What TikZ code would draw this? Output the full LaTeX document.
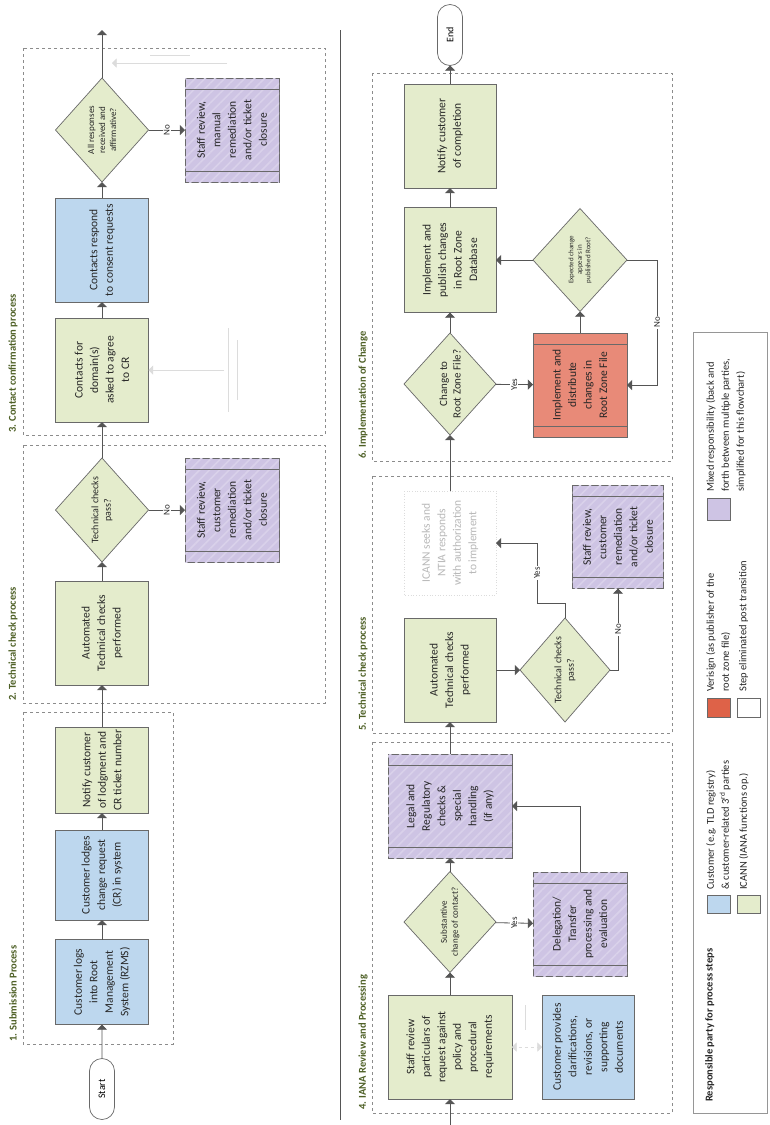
\documentclass[tikz,border=0pt]{standalone}
\usepackage{fontspec}
\setmainfont{Carlito}
\usetikzlibrary{arrows, calc, patterns.meta, shapes.geometric, shapes.misc, positioning}

\definecolor{custblue}{RGB}{189,215,238}
\definecolor{icanngreen}{RGB}{228,236,204}
\definecolor{mixpurple}{RGB}{206,196,228}
\definecolor{verired}{RGB}{232,138,120}
\definecolor{veriswatch}{RGB}{222,98,72}
\definecolor{boxline}{RGB}{105,105,105}
\definecolor{flowline}{RGB}{85,85,85}
\definecolor{frameline}{RGB}{140,140,140}
\definecolor{secttext}{RGB}{78,96,38}
\definecolor{ghost}{RGB}{220,220,220}

\begin{document}
\begin{tikzpicture}[x=1pt, y=-1pt,
  proc/.style={draw=boxline, line width=0.7pt, rotate=90, inner sep=2pt, outer sep=0pt,
    minimum width=104pt, minimum height=93pt, align=center, text=black!85,
    font=\fontsize{11.5}{15.5}\selectfont},
  cust/.style={proc, fill=custblue},
  icann/.style={proc, fill=icanngreen},
  mixed/.style={proc, fill=mixpurple, postaction={pattern={Lines[angle=45,distance=7pt,line width=1.6pt]},
    pattern color=white!22!mixpurple}},
  veri/.style={proc, fill=verired},
  gone/.style={proc, draw=ghost, dotted, text=black!28},
  decide/.style={diamond, draw=boxline, line width=0.7pt, fill=icanngreen, rotate=90,
    inner sep=0pt, outer sep=0pt, minimum width=104pt, minimum height=93pt},
  decidetext/.style={rotate=90, align=center, text=black!85, font=\fontsize{10}{12.5}\selectfont},
  term/.style={rounded rectangle, draw=boxline, line width=0.7pt, fill=white, rotate=90,
    minimum width=61pt, minimum height=25pt, inner sep=0pt, outer sep=0pt, font=\fontsize{10}{12}\selectfont},
  flow/.style={draw=flowline, line width=0.8pt, -triangle 90},
  ghostline/.style={draw=ghost, line width=0.6pt},
  answer/.style={rotate=90, fill=white, inner sep=1pt, text=black!85, font=\fontsize{9}{10}\selectfont},
  stage/.style={draw=frameline, dashed, line width=0.6pt},
  stagetitle/.style={rotate=90, anchor=west, inner sep=0pt, text=secttext, font=\bfseries\fontsize{10.5}{12}\selectfont},
  legtext/.style={rotate=90, anchor=north west, inner sep=0pt, align=left, text=black!85, font=\fontsize{10.5}{15}\selectfont},
  swatch/.style={draw=boxline, line width=0.6pt}
]
\useasboundingbox (0,0) rectangle (769,1125);
\fill[white] (0,0) rectangle (769,1125);

% stage frames and titles
\draw[stage] (23,712) rectangle (173,1044);
\draw[stage] (23,445) rectangle (325,703);
\draw[stage] (23,48) rectangle (325,435);
\draw[stage] (372,742) rectangle (672,1113);
\draw[stage] (372,476) rectangle (672,733);
\draw[stage] (372,73) rectangle (672,461);
\node[stagetitle] (title1) at (13,1042) {1. Submission Process};
\node[stagetitle] (title2) at (13,701) {2. Technical check process};
\node[stagetitle] (title3) at (13,433) {3. Contact confirmation process};
\node[stagetitle] (title4) at (363,1110) {4. IANA Review and Processing};
\node[stagetitle] (title5) at (363,731) {5. Technical check process};
\node[stagetitle] (title6) at (363,459) {6. Implementation of Change};
\draw[flowline, line width=1pt] (340,30) -- (340,1120);

% 1. submission
\node[term] (start) at (102,1089) {Start};
\node[cust, minimum width=85pt] (logs) at (102,982) {Customer logs\\into Root\\Management\\System (RZMS)};
\node[cust, minimum width=90pt] (lodges) at (102,875) {Customer lodges\\change request\\(CR) in system};
\node[icann, minimum width=86pt] (notify1) at (102,770) {Notify customer\\of lodgment and\\CR ticket number};

% 2. technical check
\node[icann] (auto1) at (102,633) {Automated\\Technical checks\\performed};
\node[decide] (tc1) at (102,510) {};
\node[decidetext] (tc1text) at (tc1) {Technical checks\\pass?};
\node[mixed, minimum height=94pt] (rev1) at (232,510) {Staff review,\\customer\\remediation\\and/or ticket\\closure};

% 3. contact confirmation
\node[icann] (agree) at (102,370) {Contacts for\\domain(s)\\asked to agree\\to CR};
\node[cust] (consent) at (102,250) {Contacts respond\\to consent requests};
\node[decide] (allok) at (102,130) {};
\node[decidetext, font=\fontsize{9}{11}\selectfont] (alloktext) at (allok) {All responses\\received and\\affirmative?};
\node[mixed, minimum height=94pt] (rev2) at (232,130) {Staff review,\\manual\\remediation\\and/or ticket\\closure};
\coordinate (out3) at (102,30);

% 4. review and processing
\coordinate (in4) at (450,1125);
\node[icann, minimum height=124pt] (review) at (450,1047) {Staff review\\particulars of\\request against\\policy and\\procedural\\requirements};
\node[cust, minimum height=92pt] (clarify) at (588,1047) {Customer provides\\clarifications,\\revisions, or\\supporting\\documents};
\node[decide, minimum width=101pt, minimum height=92pt] (subst) at (450,922) {};
\node[decidetext, font=\fontsize{9}{11}\selectfont] (substtext) at (subst) {Substantive\\change of contact?};
\node[mixed, minimum height=94pt] (deleg) at (580,924) {Delegation/\\Transfer\\processing and\\evaluation};
\node[mixed, minimum height=124pt] (legal) at (450,806) {Legal and\\Regulatory\\checks \&\\special\\handling\\(if any)};

% 5. technical check
\node[icann, minimum height=92pt] (auto2) at (450,670) {Automated\\Technical checks\\performed};
\node[decide, minimum height=90pt] (tc2) at (565,670) {};
\node[decidetext] (tc2text) at (tc2) {Technical checks\\pass?};
\node[mixed, minimum width=103pt, minimum height=91pt] (rev3) at (618,537) {Staff review,\\customer\\remediation\\and/or ticket\\closure};
\node[gone, minimum height=92pt] (seek) at (450,543) {ICANN seeks and\\NTIA responds\\with authorization\\to implement};
\coordinate (yesbend) at (537,603);

% 6. implementation
\node[decide, minimum width=102pt, minimum height=92pt] (rzf) at (450,384) {};
\node[decidetext, font=\fontsize{11}{13.5}\selectfont] (rzftext) at (rzf) {Change to\\Root Zone File?};
\node[veri, minimum height=94pt] (distrib) at (580,385) {Implement and\\distribute\\changes in\\Root Zone File};
\node[decide, minimum width=103pt, minimum height=94pt] (expect) at (580,260) {};
\node[decidetext, font=\fontsize{7}{8.5}\selectfont] (expecttext) at (expect) {Expected change\\appears in\\published Root?};
\node[icann, minimum width=105pt, minimum height=92pt] (publish) at (450,260) {Implement and\\publish changes\\in Root Zone\\Database};
\node[icann, minimum width=104pt, minimum height=92pt] (notify2) at (450,136) {Notify customer\\of completion};
\node[term] (finish) at (450,35) {End};
\coordinate (nobend) at (657,385);

% double side lines of the mixed and Verisign steps
\foreach \n in {rev1,rev2,deleg,legal,rev3,distrib}
  \draw[boxline, line width=0.6pt] ($(\n.north east)+(0,11)$) -- ($(\n.south east)+(0,11)$)
    ($(\n.north west)+(0,-11)$) -- ($(\n.south west)+(0,-11)$);

% connectors
\draw[flow] (start) -- (logs);
\draw[flow] (logs) -- (lodges);
\draw[flow] (lodges) -- (notify1);
\draw[flow] (notify1) -- (auto1);
\draw[flow] (auto1) -- (tc1);
\draw[flow] (tc1) -- node[answer]{No} (rev1);
\draw[flow] (tc1) -- (agree);
\draw[flow] (agree) -- (consent);
\draw[flow] (consent) -- (allok);
\draw[flow] (allok) -- node[answer]{No} (rev2);
\draw[flow] (allok) -- (out3);

\draw[flow] (in4) -- (review);
\draw[flow] (review) -- (subst);
\draw[flow] (subst) -- node[answer]{Yes} (deleg);
\draw[flow] (subst) -- (legal);
\draw[flow] (deleg) |- (legal);
\draw[flow] (legal) -- (auto2);
\draw[flow] (auto2) -- (tc2);
\draw[flow] (tc2.east) |- (yesbend) |- node[answer, pos=0.25]{Yes} (seek);
\draw[flow] (tc2.south) -| node[answer, pos=0.75]{No} (rev3);
\draw[flow] (seek) -- (rzf);
\draw[flow] (rzf) -- node[answer]{Yes} (distrib);
\draw[flow] (rzf) -- (publish);
\draw[flow] (distrib) -- (expect);
\draw[flow] (expect) -- (publish);
\draw[flow] (expect.south) -| node[answer, pos=0.75]{No} (nobend) -- (distrib);
\draw[flow] (publish) -- (notify2);
\draw[flow] (notify2) -- (finish);

% faded traces of removed steps
\coordinate (ghostA) at (224,370);
\draw[ghostline, -triangle 90] (ghostA) -- (agree);
\draw[ghostline] (228,328) -- (228,412) (237,340) -- (237,400);
\draw[ghostline, -triangle 90] (227,63) -- (112,63);
\draw[ghostline] (150,55) -- (190,55);
\draw[ghostline, dashed, triangle 90-triangle 90] (review) -- (clarify);
\draw[ghostline] (525,1005) -- (525,1030);

% legend
\draw[boxline!70, line width=0.6pt] (693,332) rectangle (767,1113);
\node[legtext, font=\bfseries\fontsize{10.5}{15}\selectfont] (legtitle) at (705,1102) {Responsible party for process steps};
\draw[swatch, fill=custblue] (707,895) rectangle (730,913);
\node[legtext] (legcust) at (706,890) {Customer (e.g. TLD registry)\\\& customer-related 3\textsuperscript{rd} parties};
\draw[swatch, fill=icanngreen] (737,895) rectangle (760,913);
\node[legtext] (legicann) at (739,890) {ICANN (IANA functions op.)};
\draw[swatch, fill=veriswatch] (707,698) rectangle (730,717);
\node[legtext] (legveri) at (706,692) {Verisign (as publisher of the\\root zone file)};
\draw[swatch, fill=white] (737,698) rectangle (760,717);
\node[legtext] (leggone) at (739,692) {Step eliminated post transition};
\draw[swatch, fill=mixpurple] (707,498) rectangle (730,520);
\node[legtext] (legmixed) at (706,492) {Mixed responsibility (back and\\forth between multiple parties,\\simplified for this flowchart)};
\end{tikzpicture}
\end{document}
